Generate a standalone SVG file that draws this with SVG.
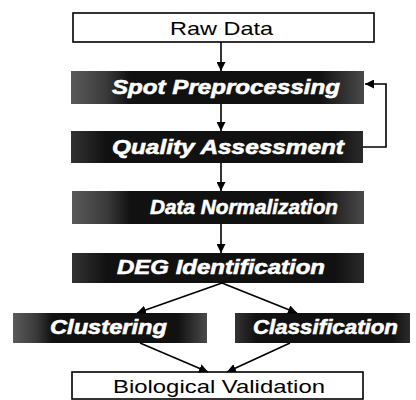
<svg xmlns="http://www.w3.org/2000/svg" width="416" height="400" viewBox="0 0 416 400">
<defs>
<linearGradient id="edge" x1="0" y1="0" x2="1" y2="0">
<stop offset="0" stop-color="#5a5a5a"/>
<stop offset="0.12" stop-color="#3a3a3a"/>
<stop offset="0.2" stop-color="#111"/>
<stop offset="0.85" stop-color="#111"/>
<stop offset="1" stop-color="#4a4a4a"/>
</linearGradient>
<linearGradient id="dark" x1="0" y1="0" x2="1" y2="0">
<stop offset="0" stop-color="#333"/>
<stop offset="0.12" stop-color="#111"/>
<stop offset="0.9" stop-color="#111"/>
<stop offset="1" stop-color="#2a2a2a"/>
</linearGradient>
<marker id="ah" markerWidth="9" markerHeight="9" refX="9" refY="4.5" orient="auto" markerUnits="userSpaceOnUse">
<path d="M0,0 L9,4.5 L0,9 z" fill="#000"/>
</marker>
</defs>
<style>
.plain{fill:#fff;stroke:#000;stroke-width:1.6}
.dk{stroke:none}
.wt{fill:#fff;stroke:#fff;stroke-width:0.6;font-family:"Liberation Sans",Arial,sans-serif;font-weight:bold;font-style:italic;font-size:21px}
.bt{fill:#000;font-family:"Liberation Sans",Arial,sans-serif;font-size:19px}
.cn{fill:none;stroke:#000;stroke-width:1.6}
</style>
<rect width="416" height="400" fill="#fff"/>
<g id="raw-data">
<rect class="plain" x="73" y="13" width="301" height="29"/>
<text class="bt" x="170" y="35" textLength="103" lengthAdjust="spacingAndGlyphs">Raw Data</text>
</g>
<g id="spot-preprocessing">
<rect class="dk" x="71" y="71" width="293" height="33" fill="url(#edge)"/>
<text class="wt" x="112" y="94" textLength="228" lengthAdjust="spacingAndGlyphs">Spot Preprocessing</text>
</g>
<g id="quality-assessment">
<rect class="dk" x="71" y="131" width="292" height="32" fill="url(#dark)"/>
<text class="wt" x="112" y="154" textLength="232" lengthAdjust="spacingAndGlyphs">Quality Assessment</text>
</g>
<g id="data-normalization">
<rect class="dk" x="72" y="191" width="292" height="33" fill="url(#edge)"/>
<text class="wt" x="150" y="214" textLength="188" lengthAdjust="spacingAndGlyphs">Data Normalization</text>
</g>
<g id="deg-identification">
<rect class="dk" x="72" y="253" width="292" height="30" fill="url(#dark)"/>
<text class="wt" x="117" y="274" textLength="208" lengthAdjust="spacingAndGlyphs">DEG Identification</text>
</g>
<g id="clustering">
<rect class="dk" x="13" y="313" width="194" height="30" fill="url(#edge)"/>
<text class="wt" x="50" y="334" textLength="117" lengthAdjust="spacingAndGlyphs">Clustering</text>
</g>
<g id="classification">
<rect class="dk" x="235" y="313" width="175" height="30" fill="url(#dark)"/>
<text class="wt" x="253" y="334" textLength="145" lengthAdjust="spacingAndGlyphs">Classification</text>
</g>
<g id="biological-validation">
<rect class="plain" x="72" y="372" width="291" height="27"/>
<text class="bt" x="113" y="393" textLength="212" lengthAdjust="spacingAndGlyphs">Biological Validation</text>
</g>
<g id="connectors">
<line class="cn" x1="221" y1="42" x2="221" y2="71" marker-end="url(#ah)"/>
<line class="cn" x1="221" y1="104" x2="221" y2="131" marker-end="url(#ah)"/>
<line class="cn" x1="221" y1="163" x2="221" y2="191" marker-end="url(#ah)"/>
<line class="cn" x1="221" y1="224" x2="221" y2="253" marker-end="url(#ah)"/>
<polyline class="cn" points="363,147 386,147 386,84 365,84" marker-end="url(#ah)"/>
<line class="cn" x1="222" y1="283" x2="137" y2="313" marker-end="url(#ah)"/>
<line class="cn" x1="222" y1="283" x2="297" y2="313" marker-end="url(#ah)"/>
<line class="cn" x1="140" y1="343" x2="208" y2="372" marker-end="url(#ah)"/>
<line class="cn" x1="290" y1="343" x2="227" y2="372" marker-end="url(#ah)"/>
</g>
</svg>
